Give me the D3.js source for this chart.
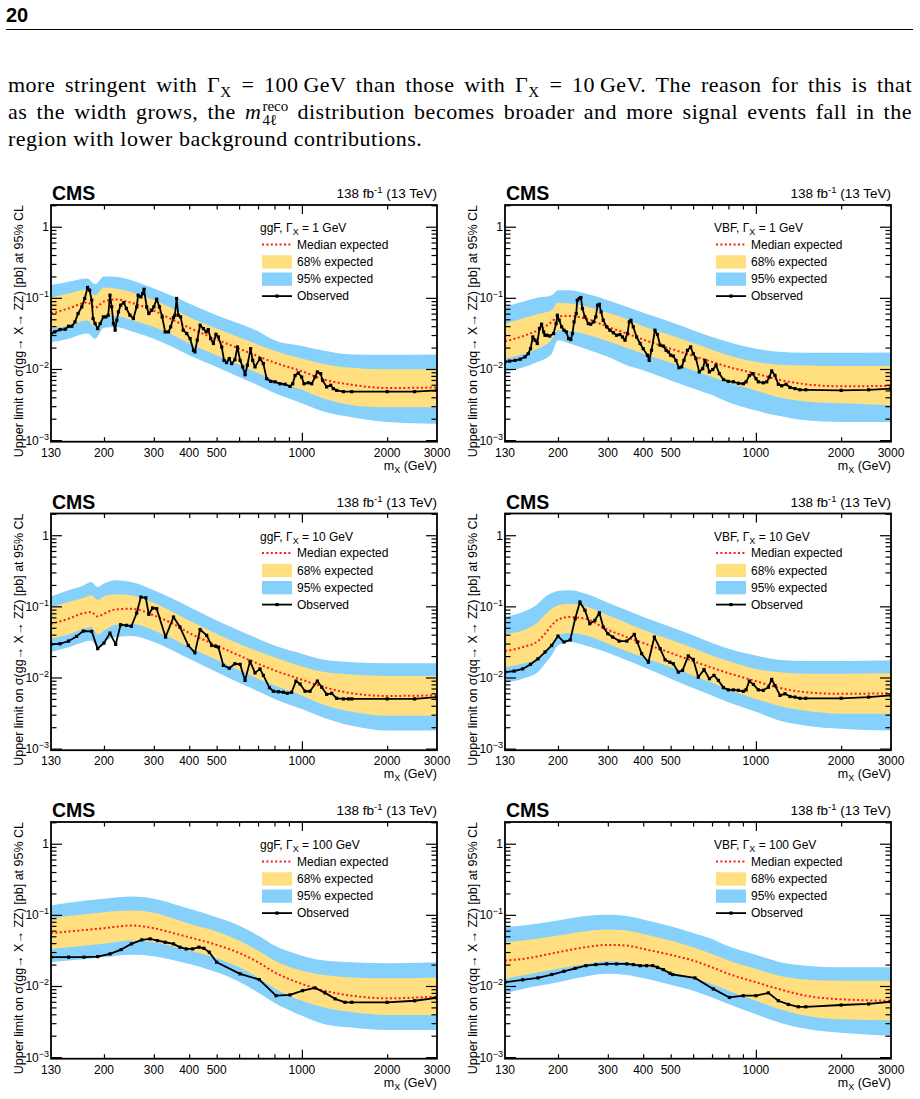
<!DOCTYPE html>
<html>
<head>
<meta charset="utf-8">
<script src="https://cdn.jsdelivr.net/npm/d3@7"></script>
<style>
  body { margin: 0; background: #fff; }
  svg { display: block; }
</style>
</head>
<body>
<svg id="page" width="920" height="1099"></svg>
<script>
// ---------- data (limits in pb, masses in GeV) ----------

// ggF, Gamma_X = 1 GeV
const gridGgf1 = [130, 150, 175, 186, 200, 220, 250, 300, 350, 400, 500, 600, 700, 800, 1000, 1200, 1500, 2000, 3000];
const hi95Ggf1 = [0.151, 0.168, 0.187, 0.156, 0.2, 0.198, 0.177, 0.135, 0.105, 0.083, 0.057, 0.0435, 0.034, 0.0253, 0.021, 0.018, 0.016, 0.0159, 0.016];
const hi68Ggf1 = [0.101, 0.115, 0.131, 0.109, 0.14, 0.135, 0.12, 0.093, 0.071, 0.054, 0.037, 0.028, 0.022, 0.018, 0.014, 0.0117, 0.0104, 0.0099, 0.0099];
const medGgf1  = [0.060, 0.071, 0.086, 0.073, 0.089, 0.095, 0.085, 0.066, 0.049, 0.038, 0.026, 0.0193, 0.0151, 0.0123, 0.0093, 0.0071, 0.0060, 0.0054, 0.0055];
const lo68Ggf1 = [0.037, 0.041, 0.048, 0.039, 0.053, 0.055, 0.049, 0.039, 0.030, 0.0228, 0.0156, 0.0115, 0.0088, 0.0069, 0.0051, 0.0038, 0.0031, 0.0029, 0.0029];
const lo95Ggf1 = [0.0237, 0.0267, 0.0315, 0.0267, 0.038, 0.039, 0.034, 0.0267, 0.0204, 0.0156, 0.0107, 0.0077, 0.0059, 0.0046, 0.0033, 0.0025, 0.0021, 0.0018, 0.0017];
const obsGgf1 = [[130,0.0315],[134,0.0332],[140,0.0358],[146,0.0362],[150,0.0399],[154,0.0399],[158,0.0459],[162,0.0602],[167,0.0747],[171,0.098],
  [175,0.14],[178,0.128],[181,0.0927],[183,0.0512],[186,0.0435],[190,0.037],[194,0.0435],[199,0.054],[203,0.054],[207,0.057],
  [210,0.109],[213,0.0747],[216,0.0435],[219,0.0351],[222,0.0484],[225,0.0635],[229,0.0788],[235,0.0859],[240,0.0708],[247,0.057],
  [254,0.0512],[261,0.0747],[264,0.109],[270,0.103],[274,0.115],[277,0.132],[283,0.0747],[288,0.0602],[295,0.067],[300,0.0747],
  [307,0.0958],[314,0.0747],[321,0.054],[329,0.0332],[338,0.0332],[344,0.0391],[352,0.0528],[356,0.057],[361,0.098],[366,0.057],
  [373,0.054],[381,0.0351],[392,0.0315],[403,0.0267],[414,0.0183],[419,0.0174],[427,0.0254],[437,0.0412],[449,0.037],[459,0.0332],
  [467,0.0358],[476,0.0267],[487,0.0228],[497,0.0308],[507,0.0282],[521,0.0204],[531,0.0132],[542,0.0123],[554,0.014],[565,0.0119],
  [580,0.0135],[592,0.0204],[605,0.0132],[618,0.0107],[630,0.0083],[642,0.0113],[659,0.0193],[670,0.0132],[683,0.0107],[711,0.014],
  [731,0.0119],[751,0.0073],[776,0.0067],[804,0.0066],[837,0.0062],[872,0.0061],[908,0.0057],[928,0.0062],[946,0.0081],[971,0.0088],
  [998,0.0077],[1017,0.0062],[1054,0.0064],[1083,0.0062],[1113,0.0077],[1134,0.0091],[1165,0.0086],[1184,0.0069],[1223,0.0056],[1264,0.0059],
  [1291,0.0053],[1327,0.005],[1401,0.0048],[1500,0.0048],[2000,0.0048],[2500,0.0048],[3000,0.005]];

// VBF, Gamma_X = 1 GeV
const gridVbf1 = [130, 150, 170, 190, 200, 220, 250, 300, 350, 400, 500, 600, 700, 800, 1000, 1200, 1500, 2000, 3000];
const hi95Vbf1 = [0.0747, 0.0879, 0.101, 0.109, 0.128, 0.128, 0.115, 0.0927, 0.0747, 0.0616, 0.0459, 0.0351, 0.0282, 0.024, 0.0193, 0.0174, 0.0169, 0.0169, 0.017];
const hi68Vbf1 = [0.0435, 0.0512, 0.0594, 0.067, 0.085, 0.0832, 0.0765, 0.0616, 0.0504, 0.0398, 0.0298, 0.0232, 0.0187, 0.0156, 0.0126, 0.0115, 0.0112, 0.011, 0.011];
const medVbf1  = [0.0245, 0.0288, 0.0351, 0.0459, 0.055, 0.0557, 0.0512, 0.0391, 0.0315, 0.0259, 0.0193, 0.0153, 0.0126, 0.0107, 0.0086, 0.0071, 0.0061, 0.0057, 0.0058];
const lo68Vbf1 = [0.014, 0.0161, 0.0193, 0.0259, 0.0351, 0.0343, 0.0309, 0.0245, 0.0197, 0.0164, 0.0122, 0.0096, 0.0077, 0.0064, 0.005, 0.004, 0.0035, 0.0033, 0.0031];
const lo95Vbf1 = [0.0091, 0.0105, 0.0126, 0.0164, 0.0254, 0.0228, 0.0193, 0.0148, 0.0113, 0.0096, 0.0069, 0.0053, 0.0043, 0.0034, 0.0026, 0.0022, 0.0019, 0.0018, 0.0018];
const obsVbf1 = [[130,0.0126],[135,0.0129],[141,0.0132],[147,0.0137],[153,0.0148],[157,0.0164],[160,0.0193],[163,0.0282],[166,0.0254],[169,0.0228],
  [172,0.037],[175,0.0426],[178,0.0332],[180,0.0298],[183,0.0298],[187,0.029],[193,0.0315],[197,0.0435],[199,0.057],[202,0.0484],
  [206,0.0391],[210,0.0351],[214,0.0332],[218,0.0267],[222,0.0259],[225,0.0315],[228,0.0459],[232,0.0602],[234,0.0927],[238,0.098],
  [241,0.101],[244,0.0708],[249,0.054],[256,0.0435],[261,0.0426],[267,0.0459],[272,0.054],[276,0.0788],[280,0.0812],[284,0.0635],
  [289,0.0484],[297,0.0391],[305,0.0351],[314,0.0323],[322,0.0298],[331,0.0305],[338,0.0282],[345,0.0254],[352,0.0315],[357,0.0459],
  [362,0.0484],[369,0.0391],[379,0.0282],[390,0.0228],[400,0.0193],[414,0.0156],[420,0.0132],[428,0.0183],[440,0.0351],[449,0.0305],
  [459,0.0216],[471,0.021],[482,0.0183],[491,0.0174],[500,0.0156],[511,0.0152],[522,0.0132],[535,0.0104],[547,0.0107],[557,0.0132],
  [573,0.0183],[588,0.0204],[601,0.0164],[614,0.014],[631,0.0091],[649,0.0101],[661,0.0132],[674,0.0113],[685,0.0091],[704,0.0098],
  [723,0.0113],[743,0.0086],[768,0.0071],[799,0.0067],[833,0.0066],[867,0.0063],[903,0.0062],[923,0.0066],[948,0.0081],[974,0.0086],
  [1001,0.0073],[1020,0.0066],[1062,0.0064],[1092,0.0066],[1116,0.0077],[1137,0.0094],[1168,0.0081],[1200,0.0061],[1233,0.0058],[1278,0.0061],
  [1320,0.0055],[1374,0.0053],[1431,0.0051],[1500,0.0051],[2000,0.005],[2500,0.0051],[3000,0.0053]];

// ggF, Gamma_X = 10 GeV
const gridGgf10 = [130, 150, 170, 180, 190, 200, 220, 250, 300, 350, 400, 500, 600, 700, 800, 1000, 1200, 1500, 2000, 3000];
const hi95Ggf10 = [0.138, 0.168, 0.198, 0.22, 0.187, 0.209, 0.232, 0.22, 0.168, 0.128, 0.098, 0.0635, 0.0459, 0.0351, 0.0282, 0.0216, 0.0177, 0.0164, 0.0159, 0.0159];
const hi68Ggf10 = [0.096, 0.115, 0.132, 0.143, 0.124, 0.138, 0.148, 0.143, 0.112, 0.0832, 0.0635, 0.0412, 0.0298, 0.0234, 0.0193, 0.0143, 0.0119, 0.011, 0.0105, 0.0105];
const medGgf10  = [0.057, 0.067, 0.0806, 0.0832, 0.0722, 0.0788, 0.0905, 0.0927, 0.0747, 0.057, 0.0422, 0.0282, 0.0204, 0.0156, 0.0126, 0.0093, 0.0073, 0.006, 0.0055, 0.0056];
const lo68Ggf10 = [0.0351, 0.0403, 0.0484, 0.0512, 0.0403, 0.0459, 0.0552, 0.057, 0.0459, 0.0351, 0.0267, 0.0177, 0.0126, 0.0096, 0.0077, 0.0056, 0.0041, 0.0033, 0.0029, 0.0029];
const lo95Ggf10 = [0.0228, 0.0267, 0.0315, 0.0332, 0.0267, 0.0315, 0.037, 0.0382, 0.0315, 0.024, 0.0183, 0.0119, 0.0084, 0.0064, 0.005, 0.0036, 0.0027, 0.0021, 0.0018, 0.0018];
const obsGgf10 = [[130,0.0292],[140,0.0298],[150,0.0325],[160,0.0378],[169,0.045],[181,0.0445],[190,0.0254],[200,0.0305],[210,0.0421],[220,0.0292],
  [229,0.0552],[240,0.054],[250,0.0525],[261,0.0806],[270,0.135],[281,0.132],[288,0.0773],[297,0.0948],[307,0.0927],[330,0.037],
  [352,0.0708],[371,0.0512],[397,0.0282],[419,0.0222],[437,0.0472],[461,0.0391],[480,0.0282],[497,0.0274],[507,0.0267],[528,0.0148],
  [554,0.0135],[580,0.0156],[605,0.0153],[630,0.0091],[656,0.0169],[683,0.0116],[711,0.0132],[731,0.0107],[768,0.0072],[793,0.0064],
  [826,0.0063],[860,0.0062],[888,0.006],[920,0.0062],[953,0.0089],[985,0.0081],[1026,0.0064],[1068,0.0064],[1134,0.0089],[1175,0.0073],
  [1223,0.0058],[1274,0.006],[1327,0.0051],[1401,0.005],[1459,0.005],[1500,0.005],[2000,0.005],[2500,0.005],[3000,0.0053]];

// VBF, Gamma_X = 10 GeV
const gridVbf10 = [130, 150, 170, 180, 190, 200, 220, 250, 300, 350, 400, 500, 600, 700, 800, 1000, 1200, 1500, 2000, 3000];
const hi95Vbf10 = [0.0708, 0.0832, 0.109, 0.135, 0.154, 0.165, 0.168, 0.151, 0.112, 0.0879, 0.0708, 0.0512, 0.0391, 0.0305, 0.0254, 0.0204, 0.0177, 0.017, 0.017, 0.0174];
const hi68Vbf10 = [0.0412, 0.0459, 0.0602, 0.0765, 0.0927, 0.103, 0.109, 0.1, 0.0747, 0.0583, 0.0469, 0.0338, 0.0259, 0.0204, 0.017, 0.0132, 0.0119, 0.0113, 0.0113, 0.0115];
const medVbf10  = [0.0234, 0.0267, 0.0325, 0.0412, 0.054, 0.0649, 0.0708, 0.067, 0.0469, 0.037, 0.0305, 0.0222, 0.017, 0.0137, 0.0115, 0.0089, 0.0072, 0.0062, 0.0059, 0.006];
const lo68Vbf10 = [0.014, 0.0156, 0.0183, 0.0228, 0.0282, 0.0391, 0.0422, 0.0391, 0.0298, 0.0234, 0.0193, 0.014, 0.0107, 0.0084, 0.0067, 0.005, 0.004, 0.0034, 0.0031, 0.0031];
const lo95Vbf10 = [0.0084, 0.0096, 0.0119, 0.0156, 0.0204, 0.0282, 0.0315, 0.0282, 0.0222, 0.0174, 0.014, 0.0096, 0.0071, 0.0056, 0.0045, 0.0033, 0.0025, 0.0021, 0.0019, 0.0018];
const obsVbf10 = [[130,0.0119],[140,0.0123],[150,0.0132],[160,0.0153],[170,0.0183],[180,0.0228],[190,0.0282],[200,0.0382],[210,0.0315],[221,0.0338],
  [230,0.067],[239,0.115],[249,0.0879],[259,0.057],[270,0.0635],[280,0.0812],[289,0.0512],[300,0.0412],[312,0.037],[329,0.0325],
  [350,0.0325],[372,0.0403],[381,0.0315],[395,0.0216],[417,0.0164],[438,0.037],[459,0.0254],[478,0.0177],[497,0.0164],[511,0.0156],
  [532,0.0119],[551,0.0126],[577,0.0201],[601,0.0179],[626,0.0101],[656,0.0129],[685,0.0096],[711,0.0107],[737,0.0091],[768,0.0072],
  [799,0.0067],[833,0.0067],[867,0.0066],[903,0.0064],[923,0.0067],[948,0.0089],[980,0.008],[1020,0.0067],[1062,0.0066],[1107,0.0073],
  [1137,0.0094],[1168,0.0077],[1217,0.0056],[1267,0.0059],[1320,0.0054],[1374,0.0053],[1431,0.0051],[1500,0.0051],[2000,0.0051],[2500,0.0053],[3000,0.0056]];

// ggF, Gamma_X = 100 GeV
const gridGgf100 = [130, 150, 200, 250, 300, 350, 400, 500, 600, 700, 800, 1000, 1200, 1500, 2000, 3000];
const hi95Ggf100 = [0.135, 0.148, 0.168, 0.181, 0.168, 0.143, 0.1215, 0.0927, 0.0708, 0.0512, 0.037, 0.0267, 0.0228, 0.0216, 0.0209, 0.0216];
const hi68Ggf100 = [0.0879, 0.096, 0.109, 0.115, 0.107, 0.0898, 0.0747, 0.0583, 0.0435, 0.0315, 0.0228, 0.0164, 0.0143, 0.0132, 0.0128, 0.0132];
const medGgf100  = [0.0552, 0.0583, 0.0649, 0.0708, 0.0649, 0.0557, 0.0484, 0.0378, 0.0292, 0.0216, 0.0156, 0.0107, 0.0086, 0.0073, 0.0067, 0.0071];
const lo68Ggf100 = [0.0332, 0.0351, 0.0391, 0.0435, 0.0412, 0.0361, 0.0315, 0.0245, 0.0183, 0.0132, 0.0093, 0.0062, 0.005, 0.0043, 0.0039, 0.0039];
const lo95Ggf100 = [0.0216, 0.0228, 0.0254, 0.0274, 0.0262, 0.0232, 0.0204, 0.0156, 0.0115, 0.0081, 0.0058, 0.0038, 0.0029, 0.0026, 0.0024, 0.0024];
const obsGgf100 = [[130,0.0254],[150,0.0254],[170,0.0254],[190,0.0259],[210,0.0282],[230,0.0325],[250,0.0391],[272,0.0445],[291,0.0459],[309,0.0435],
  [329,0.0412],[352,0.0391],[371,0.0351],[390,0.0332],[411,0.0332],[433,0.0351],[451,0.0338],[471,0.0298],[500,0.0216],[605,0.0148],
  [707,0.0123],[810,0.0073],[908,0.0075],[1006,0.0086],[1113,0.0094],[1207,0.008],[1309,0.0066],[1420,0.0059],[1500,0.0059],[2000,0.0059],
  [2500,0.0062],[3000,0.0068]];

// VBF, Gamma_X = 100 GeV
const gridVbf100 = [130, 150, 200, 250, 300, 350, 400, 500, 600, 700, 800, 1000, 1200, 1500, 2000, 3000];
const hi95Vbf100 = [0.067, 0.0708, 0.0832, 0.096, 0.1, 0.096, 0.086, 0.0692, 0.0557, 0.0459, 0.0361, 0.0274, 0.022, 0.0193, 0.0183, 0.0183];
const hi68Vbf100 = [0.0412, 0.0435, 0.0512, 0.059, 0.0624, 0.0602, 0.054, 0.0435, 0.0351, 0.0282, 0.0228, 0.0174, 0.014, 0.0123, 0.0118, 0.0118];
const medVbf100  = [0.0228, 0.024, 0.0298, 0.0351, 0.0378, 0.037, 0.0332, 0.0274, 0.0228, 0.0183, 0.0148, 0.0113, 0.0091, 0.0073, 0.0065, 0.0062];
const lo68Vbf100 = [0.0126, 0.014, 0.0174, 0.0204, 0.0222, 0.0216, 0.0193, 0.0156, 0.0129, 0.0107, 0.0086, 0.0062, 0.0048, 0.0038, 0.0034, 0.0033];
const lo95Vbf100 = [0.0079, 0.0091, 0.0113, 0.0136, 0.0148, 0.0143, 0.0129, 0.0104, 0.0086, 0.0069, 0.0056, 0.004, 0.0031, 0.0025, 0.0022, 0.002];
const obsVbf100 = [[130,0.0113],[150,0.0122],[170,0.013],[190,0.0145],[210,0.0161],[230,0.0177],[251,0.0193],[272,0.02],[297,0.0204],[322,0.0204],
  [350,0.0204],[369,0.02],[390,0.0193],[411,0.0193],[432,0.0193],[449,0.0183],[471,0.017],[497,0.0151],[508,0.0145],[609,0.013],
  [707,0.0091],[806,0.0069],[903,0.0073],[1001,0.0073],[1107,0.008],[1200,0.0062],[1302,0.0055],[1412,0.0051],[1500,0.0051],[2000,0.0054],
  [2500,0.0056],[3000,0.006]];

// axis ticks and labels
const xTickLabels = [130, 200, 300, 400, 500, 1000, 2000, 3000];
const xMinorTicks = [200, 300, 400, 500, 600, 700, 800, 900, 2000];
const xMajorTicks = [1000];
const yMajorTicks = [0.001, 0.01, 0.1, 1];
const yMinorTicks = [0.002, 0.003, 0.004, 0.005, 0.006, 0.007, 0.008, 0.009,
  0.02, 0.03, 0.04, 0.05, 0.06, 0.07, 0.08, 0.09,
  0.2, 0.3, 0.4, 0.5, 0.6, 0.7, 0.8, 0.9, 2];
const legendLabels = ["Median expected", "68% expected", "95% expected", "Observed"];

const panels = [
  {col: 0, row: 0, prod: "ggF", proc: "gg", width: "1", mass: gridGgf1, hi95: hi95Ggf1, hi68: hi68Ggf1, med: medGgf1, lo68: lo68Ggf1, lo95: lo95Ggf1, obs: obsGgf1},
  {col: 1, row: 0, prod: "VBF", proc: "qq", width: "1", mass: gridVbf1, hi95: hi95Vbf1, hi68: hi68Vbf1, med: medVbf1, lo68: lo68Vbf1, lo95: lo95Vbf1, obs: obsVbf1},
  {col: 0, row: 1, prod: "ggF", proc: "gg", width: "10", mass: gridGgf10, hi95: hi95Ggf10, hi68: hi68Ggf10, med: medGgf10, lo68: lo68Ggf10, lo95: lo95Ggf10, obs: obsGgf10},
  {col: 1, row: 1, prod: "VBF", proc: "qq", width: "10", mass: gridVbf10, hi95: hi95Vbf10, hi68: hi68Vbf10, med: medVbf10, lo68: lo68Vbf10, lo95: lo95Vbf10, obs: obsVbf10},
  {col: 0, row: 2, prod: "ggF", proc: "gg", width: "100", mass: gridGgf100, hi95: hi95Ggf100, hi68: hi68Ggf100, med: medGgf100, lo68: lo68Ggf100, lo95: lo95Ggf100, obs: obsGgf100},
  {col: 1, row: 2, prod: "VBF", proc: "qq", width: "100", mass: gridVbf100, hi95: hi95Vbf100, hi68: hi68Vbf100, med: medVbf100, lo68: lo68Vbf100, lo95: lo95Vbf100, obs: obsVbf100}
];

// ---------- drawing ----------
const SANS = '"Liberation Sans", Arial, Helvetica, sans-serif';
const SERIF = '"Liberation Serif", "DejaVu Serif", serif';
const YELLOW = "#FFDF7F", BLUE = "#85D1FB", RED = "#ff1a1a";
const TXT = 22;     // running text size
const SCR = 15;     // sub/superscript size in running text
const LS = 0.5;     // letter spacing, widens the Times-like face a little

const W = 386, H = 236.7;
const colX = [51, 505];
const rowY = [205, 513.5, 822];

const x = d3.scaleLog().domain([130, 3000]).range([0, W]);
const y = d3.scaleLog().domain([0.00095, 2.02]).range([H, 0]);

const svg = d3.select("#page");
svg.append("rect").attr("width", 920).attr("height", 1099).attr("fill", "#fff");

// page header + running text
svg.append("text").attr("x", 6).attr("y", 21.5)
  .attr("font-family", SANS).attr("font-weight", "bold").attr("font-size", 20).text("20");
svg.append("line").attr("x1", 6).attr("x2", 913).attr("y1", 29.5).attr("y2", 29.5)
  .attr("stroke", "#000").attr("stroke-width", 1);

function nSpaces(s) { return (s.match(/ /g) || []).length; }
function bodyText(xp, yp, size) {
  return svg.append("text").attr("x", xp).attr("y", yp)
    .attr("font-family", SERIF).attr("font-size", size).attr("letter-spacing", LS);
}

const l1 = bodyText(8, 92, TXT);
l1.append("tspan").text("more stringent with Γ");
l1.append("tspan").attr("dy", 5).attr("font-size", SCR).text("X");
l1.append("tspan").attr("dy", -5).text(" = 100\u2009GeV than those with Γ");
l1.append("tspan").attr("dy", 5).attr("font-size", SCR).text("X");
l1.append("tspan").attr("dy", -5).text(" = 10\u2009GeV. The reason for this is that");
l1.attr("word-spacing", (904 - l1.node().getComputedTextLength()) / nSpaces(l1.text()));

// line 2 carries m^reco_4l, built from three pieces
const l2a = bodyText(8, 119, TXT);
l2a.append("tspan").text("as the width grows, the ");
l2a.append("tspan").attr("font-style", "italic").text("m");
const supReco = bodyText(0, 111, SCR).attr("letter-spacing", 0).text("reco");
const sub4l = bodyText(0, 125, SCR).attr("letter-spacing", 0).text("4ℓ");
const l2b = bodyText(0, 119, TXT).text("distribution becomes broader and more signal events fall in the");
const spaceW = TXT * 0.25 + LS;
const scriptW = Math.max(supReco.node().getComputedTextLength(), sub4l.node().getComputedTextLength()) + 1;
const natural2 = l2a.node().getComputedTextLength() + scriptW + spaceW + l2b.node().getComputedTextLength();
const ws2 = (904 - natural2) / (nSpaces(l2a.text()) + nSpaces(l2b.text()) + 1);
l2a.attr("word-spacing", ws2);
l2b.attr("word-spacing", ws2);
const wa = l2a.node().getComputedTextLength();
supReco.attr("x", 8 + wa + 1);
sub4l.attr("x", 8 + wa + 1);
l2b.attr("x", 8 + wa + scriptW + spaceW + ws2);

bodyText(8, 146, TXT).text("region with lower background contributions.");

function tickStyle(sel) {
  sel.select(".domain").remove();
  sel.selectAll("text").remove();
  sel.selectAll("line").attr("stroke", "#000").attr("stroke-width", 1.2);
}

function drawPanel(p) {
  const g = svg.append("g").attr("transform", `translate(${colX[p.col]},${rowY[p.row]})`);
  const clipId = `clip-${p.col}-${p.row}`;
  g.append("clipPath").attr("id", clipId).append("rect").attr("width", W).attr("height", H);
  const plot = g.append("g").attr("clip-path", `url(#${clipId})`);

  const band = (lo, hi) => d3.area()
    .x(m => x(m)).y0((m, i) => y(lo[i])).y1((m, i) => y(hi[i]))
    .curve(d3.curveMonotoneX);

  plot.append("path").datum(p.mass).attr("d", band(p.lo95, p.hi95)).attr("fill", BLUE);
  plot.append("path").datum(p.mass).attr("d", band(p.lo68, p.hi68)).attr("fill", YELLOW);
  plot.append("path").datum(p.mass)
    .attr("d", d3.line().x(m => x(m)).y((m, i) => y(p.med[i])).curve(d3.curveMonotoneX))
    .attr("fill", "none").attr("stroke", RED).attr("stroke-width", 2).attr("stroke-dasharray", "2,2.4");

  plot.append("path").datum(p.obs)
    .attr("d", d3.line().x(d => x(d[0])).y(d => y(d[1])))
    .attr("fill", "none").attr("stroke", "#000").attr("stroke-width", 1.8).attr("stroke-linejoin", "round");
  plot.selectAll("rect.pt").data(p.obs).join("rect").attr("class", "pt")
    .attr("x", d => x(d[0]) - 1.6).attr("y", d => y(d[1]) - 1.6)
    .attr("width", 3.2).attr("height", 3.2).attr("fill", "#000");

  // ticks on all four sides
  g.append("g").attr("transform", `translate(0,${H})`)
    .call(d3.axisBottom(x).tickValues(xMinorTicks).tickSize(-4.5)).call(tickStyle);
  g.append("g").attr("transform", `translate(0,${H})`)
    .call(d3.axisBottom(x).tickValues(xMajorTicks).tickSize(-9)).call(tickStyle);
  g.append("g").call(d3.axisTop(x).tickValues(xMinorTicks).tickSize(-4.5)).call(tickStyle);
  g.append("g").call(d3.axisTop(x).tickValues(xMajorTicks).tickSize(-9)).call(tickStyle);
  g.append("g").call(d3.axisLeft(y).tickValues(yMajorTicks).tickSize(-11)).call(tickStyle);
  g.append("g").call(d3.axisLeft(y).tickValues(yMinorTicks).tickSize(-5.5)).call(tickStyle);
  g.append("g").attr("transform", `translate(${W},0)`)
    .call(d3.axisRight(y).tickValues(yMajorTicks).tickSize(-11)).call(tickStyle);
  g.append("g").attr("transform", `translate(${W},0)`)
    .call(d3.axisRight(y).tickValues(yMinorTicks).tickSize(-5.5)).call(tickStyle);
  g.append("rect").attr("width", W).attr("height", H)
    .attr("fill", "none").attr("stroke", "#000").attr("stroke-width", 1.8);

  // tick labels
  g.selectAll("text.xl").data(xTickLabels).join("text").attr("class", "xl")
    .attr("x", d => x(d)).attr("y", H + 15).attr("text-anchor", "middle")
    .attr("font-family", SANS).attr("font-size", 12).text(d => d);
  g.selectAll("text.yl").data(yMajorTicks).join("text").attr("class", "yl")
    .attr("x", -2).attr("y", d => y(d) + 4.4).attr("text-anchor", "end")
    .attr("font-family", SANS).attr("font-size", 12)
    .each(function(d) {
      const t = d3.select(this);
      const e = Math.round(Math.log10(d));
      if (e === 0) { t.text("1"); return; }
      t.append("tspan").text("10");
      t.append("tspan").attr("dy", -5).attr("font-size", 9).text("\u2212" + (-e));
    });

  // axis titles
  g.append("text").attr("transform", "translate(-28,0) rotate(-90)").attr("text-anchor", "end")
    .attr("font-family", SANS).attr("font-size", 12.5)
    .text(`Upper limit on σ(${p.proc}→ X→ ZZ) [pb] at 95% CL`);
  const xt = g.append("text").attr("x", W).attr("y", H + 28).attr("text-anchor", "end")
    .attr("font-family", SANS).attr("font-size", 12.5);
  xt.append("tspan").text("m");
  xt.append("tspan").attr("dy", 3).attr("font-size", 9).text("X");
  xt.append("tspan").attr("dy", -3).text(" (GeV)");

  // CMS label and luminosity
  g.append("text").attr("x", 1).attr("y", -5)
    .attr("font-family", SANS).attr("font-weight", "bold").attr("font-size", 19.5).text("CMS");
  const lumi = g.append("text").attr("x", W).attr("y", -7).attr("text-anchor", "end")
    .attr("font-family", SANS).attr("font-size", 13.5);
  lumi.append("tspan").text("138 fb");
  lumi.append("tspan").attr("dy", -5).attr("font-size", 9.5).text("-1");
  lumi.append("tspan").attr("dy", 5).text(" (13 TeV)");

  // legend
  const lg = g.append("g").attr("transform", "translate(209,0)");
  const hdr = lg.append("text").attr("y", 27).attr("font-family", SANS).attr("font-size", 12);
  hdr.append("tspan").text(`${p.prod}, Γ`);
  hdr.append("tspan").attr("dy", 3).attr("font-size", 9).text("X");
  hdr.append("tspan").attr("dy", -3).text(` = ${p.width} GeV`);

  const rowC = i => 39.5 + i * 17.2;
  lg.selectAll("text.lt").data(legendLabels).join("text").attr("class", "lt")
    .attr("x", 37).attr("y", (d, i) => rowC(i) + 4.3)
    .attr("font-family", SANS).attr("font-size", 12).text(d => d);
  lg.append("line").attr("x1", 2).attr("x2", 32).attr("y1", rowC(0)).attr("y2", rowC(0))
    .attr("stroke", RED).attr("stroke-width", 2).attr("stroke-dasharray", "2,2.4");
  lg.append("rect").attr("x", 2).attr("y", rowC(1) - 6.4).attr("width", 30).attr("height", 13.3).attr("fill", YELLOW);
  lg.append("rect").attr("x", 2).attr("y", rowC(2) - 6.4).attr("width", 30).attr("height", 13.3).attr("fill", BLUE);
  lg.append("line").attr("x1", 2).attr("x2", 32).attr("y1", rowC(3)).attr("y2", rowC(3))
    .attr("stroke", "#000").attr("stroke-width", 1.8);
  lg.append("rect").attr("x", 15.4).attr("y", rowC(3) - 1.6).attr("width", 3.2).attr("height", 3.2).attr("fill", "#000");
}

panels.forEach(drawPanel);
</script>
</body>
</html>
